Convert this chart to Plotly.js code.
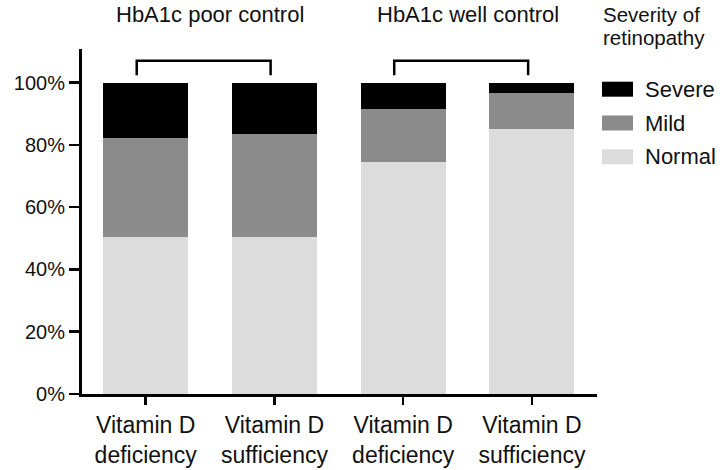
<!DOCTYPE html>
<html>
<head>
<meta charset="utf-8">
<script src="https://cdn.plot.ly/plotly-3.0.1.min.js"></script>
<style>html,body{margin:0;padding:0;background:#fff;}#chart{width:722px;height:470px;}</style>
</head>
<body>
<div id="chart"></div>
<script>
// Data
const categories = ["Vitamin D<br>deficiency", "Vitamin D<br>sufficiency", "Vitamin D<br>deficiency", "Vitamin D<br>sufficiency"];
const groups = ["HbA1c poor control", "HbA1c well control"];
const severityNames = ["Normal", "Mild", "Severe"];
const normal = [50.5, 50.3, 74.4, 85.2];
const mild = [31.6, 33.2, 17.0, 11.5];
const severe = [17.9, 16.5, 8.6, 3.3];
const yTickVals = [0, 20, 40, 60, 80, 100];
const yTickText = ["0%", "20%", "40%", "60%", "80%", "100%"];
const legendTitle = ["Severity of", "retinopathy"];

const W = 722, H = 470;
const M = {l: 82, r: 125, t: 49, b: 76};
const PW = W - M.l - M.r, PH = H - M.t - M.b;
const px = X => (X - M.l) / PW;
const py = Y => (H - M.b - Y) / PH;

const xs = categories.map((_, i) => i);
const font = "Arial, 'Liberation Sans', Helvetica, sans-serif";
const txt = "#111";
const colors = {Normal: "#dcdcdc", Mild: "#8b8b8b", Severe: "#000000"};
const seriesVals = {Normal: normal, Mild: mild, Severe: severe};

const traces = severityNames.map(name => ({
  type: "bar", x: xs, y: seriesVals[name], name: name, showlegend: false,
  width: 0.66, marker: {color: colors[name], line: {width: 0}},
  hoverinfo: "y+name"
}));

const shapes = [];
const annotations = [];
groups.forEach((g, gi) => {
  const a = xs[gi * 2], b = xs[gi * 2 + 1];
  shapes.push({type: "path", xref: "x", yref: "y",
    path: `M ${a - 0.07},102.4 L ${a - 0.07},107 L ${b - 0.03},107 L ${b - 0.03},102.4`,
    line: {color: "#000", width: 2.5}});
  annotations.push({text: g, xref: "x", yref: "paper", x: (a + b) / 2, y: py(14),
    yanchor: "middle", xanchor: "center", showarrow: false,
    font: {family: font, size: 22, color: txt}});
});

// legend (title + entries, top entry = Severe)
legendTitle.forEach((t, i) => {
  annotations.push({text: t, xref: "paper", yref: "paper", x: px(601), y: py(14 + i * 23.5),
    xanchor: "left", yanchor: "middle", showarrow: false,
    font: {family: font, size: 20.5, color: txt}});
});
severityNames.slice().reverse().forEach((name, i) => {
  const cy = 89.2 + i * 33.8;
  shapes.push({type: "rect", xref: "paper", yref: "paper",
    x0: px(602), x1: px(633), y0: py(cy + 7.5), y1: py(cy - 7.5),
    fillcolor: colors[name], line: {width: 0}});
  annotations.push({text: name, xref: "paper", yref: "paper", x: px(643), y: py(cy),
    xanchor: "left", yanchor: "middle", showarrow: false,
    font: {family: font, size: 22, color: txt}});
});

const layout = {
  width: W, height: H,
  margin: {l: M.l, r: M.r, t: M.t, b: M.b, autoexpand: false},
  paper_bgcolor: "#fff", plot_bgcolor: "#fff",
  barmode: "stack", showlegend: false,
  font: {family: font, color: txt},
  xaxis: {range: [-0.495, 3.505], tickmode: "array", tickvals: xs, ticktext: categories,
    showline: true, linecolor: "#000", linewidth: 3, ticks: "outside", ticklen: 8,
    tickwidth: 2.5, tickcolor: "#000", showgrid: false, zeroline: false,
    tickfont: {family: font, size: 23, color: txt}, fixedrange: true},
  yaxis: {range: [0, 110.8], tickmode: "array", tickvals: yTickVals, ticktext: yTickText,
    showline: true, linecolor: "#000", linewidth: 3, ticks: "outside", ticklen: 10,
    tickwidth: 2.5, tickcolor: "#000", showgrid: false, zeroline: false,
    tickfont: {family: font, size: 20, color: txt}, fixedrange: true},
  shapes: shapes,
  annotations: annotations
};

Plotly.newPlot("chart", traces, layout, {displayModeBar: false, staticPlot: true});
</script>
</body>
</html>
